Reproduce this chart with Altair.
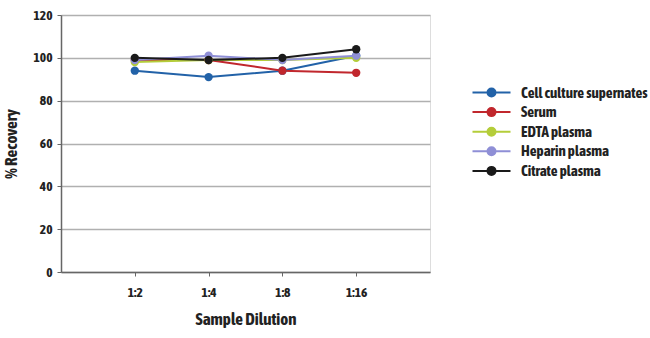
import altair as alt
import pandas as pd

dilutions = ["1:2", "1:4", "1:8", "1:16"]
series = ["Cell culture supernates", "Serum", "EDTA plasma", "Heparin plasma", "Citrate plasma"]
colors = ["#2262a8", "#c1272d", "#b4cd3a", "#8f8fd6", "#1a1a1a"]
cell = [94, 91, 94, 101]
serum = [99, 99, 94, 93]
edta = [98, 99, 99, 100]
heparin = [99, 101, 99, 101]
citrate = [100, 99, 100, 104]
y_ticks = [0, 20, 40, 60, 80, 100, 120]

values = [cell, serum, edta, heparin, citrate]
rows = []
for si, (name, vals) in enumerate(zip(series, values)):
    for d, v in zip(dilutions, vals):
        rows.append({"Series": name, "Dilution": d, "Recovery": v, "order": si})
df = pd.DataFrame(rows)

FONT = "Asap Condensed, Archivo Narrow, Barlow Semi Condensed, Liberation Sans, sans-serif"
TXT = "#222222"
AX = "#666666"
legend_symbol = "M -2 0 L -0.42 0 M 0.42 0 L 2 0 M -0.42 0 A 0.42 0.42 0 1 0 0.42 0 A 0.42 0.42 0 1 0 -0.42 0 Z"

x = alt.X("Dilution:N", sort=dilutions, scale=alt.Scale(type="point", padding=1),
          axis=alt.Axis(title="Sample Dilution", labelAngle=0, grid=False,
                        domainColor=AX, domainWidth=1.5, tickColor=AX,
                        tickSize=4, labelPadding=9, titlePadding=13,
                        labelFont=FONT, labelFontSize=13.5, labelFontWeight="bold", labelColor=TXT,
                        titleFont=FONT, titleFontSize=17, titleFontWeight="bold", titleColor=TXT))
y = alt.Y("Recovery:Q", scale=alt.Scale(domain=[0, 120]),
          axis=alt.Axis(title="% Recovery", values=y_ticks, grid=True, gridColor="#b0b0b0", gridWidth=1.5,
                        domainColor=AX, domainWidth=1.5, tickColor=AX,
                        tickSize=4, labelPadding=5, titlePadding=12,
                        labelFont=FONT, labelFontSize=13.5, labelFontWeight="bold", labelColor=TXT,
                        titleFont=FONT, titleFontSize=17, titleFontWeight="bold", titleColor=TXT))
color = alt.Color("Series:N", sort=series, scale=alt.Scale(domain=series, range=colors),
                  legend=alt.Legend(title=None, orient="none", legendX=420, legendY=67,
                                    symbolType=legend_symbol, symbolSize=361, symbolStrokeWidth=2,
                                    symbolOpacity=1, labelFont=FONT, labelFontSize=15,
                                    labelFontWeight="bold", labelColor=TXT, labelOffset=19,
                                    labelLimit=300, rowPadding=0.6, padding=0))

lines = alt.Chart(df).mark_line(strokeWidth=2).encode(
    x=x, y=y, color=color, order=alt.Order("order:Q"), detail="Series:N")
points = alt.Chart(df).mark_point(filled=True, size=70, opacity=1).encode(
    x=x, y=y, color=alt.Color("Series:N", sort=series, scale=alt.Scale(domain=series, range=colors), legend=None),
    order=alt.Order("order:Q"))

chart = alt.layer(lines, points).properties(
    width=369, height=257,
    autosize=alt.AutoSizeParams(type="none"),
    padding={"left": 61, "top": 15, "right": 220, "bottom": 66},
).configure_view(stroke="#777777", strokeWidth=1.5).configure(background="white")

chart.save("out.html", embed_options={"renderer": "svg", "actions": False})
